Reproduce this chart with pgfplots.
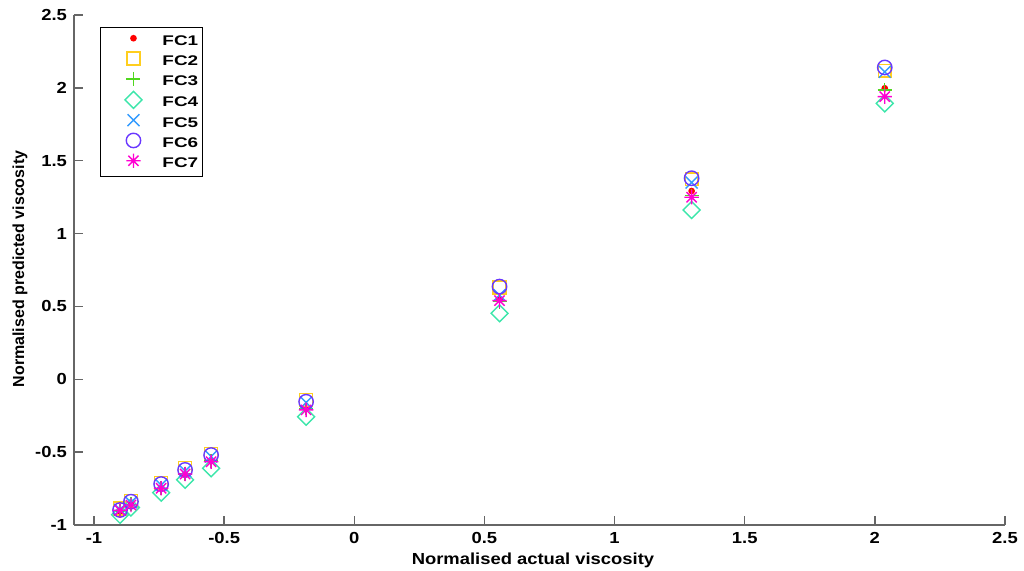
\documentclass[border=0pt]{standalone}
\usepackage{fontspec}
\setmainfont[FakeStretch=1.15]{Liberation Sans}
\newfontfamily\plainsans{Liberation Sans}
\newfontfamily\legsans[FakeStretch=1.35]{Liberation Sans}
\usepackage{pgfplots}
\usepackage{pgfplotstable}
\pgfplotsset{compat=1.18}

\definecolor{fcred}{RGB}{255,0,0}
\definecolor{fcyellow}{RGB}{255,206,30}
\definecolor{fcgreen}{RGB}{80,215,30}
\definecolor{fcmint}{RGB}{60,230,170}
\definecolor{fcsky}{RGB}{50,155,255}
\definecolor{fcviolet}{RGB}{105,55,255}
\definecolor{fcmagenta}{RGB}{255,0,210}

% eight-armed star marker
\pgfdeclareplotmark{matstar}{%
  \pgfpathmoveto{\pgfqpoint{-\pgfplotmarksize}{0pt}}%
  \pgfpathlineto{\pgfqpoint{\pgfplotmarksize}{0pt}}%
  \pgfpathmoveto{\pgfqpoint{0pt}{-\pgfplotmarksize}}%
  \pgfpathlineto{\pgfqpoint{0pt}{\pgfplotmarksize}}%
  \pgfpathmoveto{\pgfqpoint{-.7071\pgfplotmarksize}{-.7071\pgfplotmarksize}}%
  \pgfpathlineto{\pgfqpoint{.7071\pgfplotmarksize}{.7071\pgfplotmarksize}}%
  \pgfpathmoveto{\pgfqpoint{-.7071\pgfplotmarksize}{.7071\pgfplotmarksize}}%
  \pgfpathlineto{\pgfqpoint{.7071\pgfplotmarksize}{-.7071\pgfplotmarksize}}%
  \pgfusepathqstroke}

% normalised actual vs predicted viscosity, seven models
\pgfplotstableread{
x      fc1    fc2    fc3    fc4    fc5    fc6    fc7
-0.900 -0.905 -0.887 -0.905 -0.930 -0.895 -0.897 -0.900
-0.858 -0.860 -0.833 -0.858 -0.880 -0.845 -0.840 -0.863
-0.742 -0.750 -0.710 -0.748 -0.778 -0.725 -0.719 -0.748
-0.650 -0.655 -0.610 -0.650 -0.690 -0.630 -0.622 -0.650
-0.550 -0.560 -0.513 -0.560 -0.611 -0.530 -0.520 -0.566
-0.185 -0.200 -0.142 -0.200 -0.257 -0.160 -0.154 -0.210
 0.558  0.549  0.630  0.533  0.453  0.578  0.636  0.540
 1.296  1.292  1.373  1.260  1.162  1.350  1.380  1.249
 2.038  1.997  2.118  1.986  1.894  2.110  2.140  1.940
}\viscdata

\begin{document}
\begin{tikzpicture}[x=1pt,y=1pt]
\path[use as bounding box] (-37,-23) rectangle (475,262.5);
\begin{axis}[
  at={(0,0)}, anchor=south west,
  scale only axis, width=465.5pt, height=255pt,
  xmin=-1.0768, xmax=2.5, ymin=-1, ymax=2.5,
  axis x line=bottom, axis y line=left,
  axis line style={-, draw=black!60, line width=0.7pt},
  xtick={-1,-0.5,0,0.5,1,1.5,2,2.5},
  ytick={-1,-0.5,0,0.5,1,1.5,2,2.5},
  tick align=inside, major tick length=4.5pt,
  tick style={draw=black!60, line width=0.7pt},
  /pgf/number format/assume math mode=true,
  ticklabel style={font=\fontsize{8}{9}\selectfont\bfseries},
  xlabel={Normalised actual viscosity},
  xlabel style={at={(axis description cs:0.493,-0.053)}, anchor=north,
    inner sep=0pt, font=\fontsize{8}{9}\selectfont\bfseries},
  ylabel={Normalised predicted viscosity},
  ylabel style={at={(axis description cs:-0.058,0.502)}, anchor=center,
    inner sep=0pt, font=\plainsans\fontsize{8}{9}\selectfont\bfseries},
  legend cell align=left,
  legend style={at={(axis description cs:0.0279,0.9765)}, anchor=north west,
    draw=black, line width=0.5pt, fill=white,
    inner xsep=2pt, inner ysep=1.5pt, row sep=0pt,
    font=\legsans\fontsize{7}{8}\selectfont\bfseries,
    nodes={inner sep=0pt, text height=7.3pt, text depth=2.85pt},
    /tikz/every even column/.append style={column sep=0.5pt}},
  every axis plot/.append style={only marks, line width=0.7pt,
    legend image code/.code={%
      \path[draw=none,fill=none] (0pt,1.2pt) -- (29pt,1.2pt);
      \draw[#1, only marks] plot coordinates {(14.5pt,1.2pt)};}},
]
\addplot[color=fcred, mark=*, mark size=1.3pt] table[x=x,y=fc1] {\viscdata};
\addlegendentry{FC1}
\addplot[color=fcyellow, mark=square, mark size=3.2pt] table[x=x,y=fc2] {\viscdata};
\addlegendentry{FC2}
\addplot[color=fcgreen, mark=+, mark size=3.5pt] table[x=x,y=fc3] {\viscdata};
\addlegendentry{FC3}
\addplot[color=fcmint, mark=square, mark size=3pt, mark options={rotate=45}] table[x=x,y=fc4] {\viscdata};
\addlegendentry{FC4}
\addplot[color=fcsky, mark=x, mark size=4.2pt] table[x=x,y=fc5] {\viscdata};
\addlegendentry{FC5}
\addplot[color=fcviolet, mark=o, mark size=3.6pt] table[x=x,y=fc6] {\viscdata};
\addlegendentry{FC6}
\addplot[color=fcmagenta, mark=matstar, mark size=3.6pt] table[x=x,y=fc7] {\viscdata};
\addlegendentry{FC7}
\end{axis}
\end{tikzpicture}
\end{document}
